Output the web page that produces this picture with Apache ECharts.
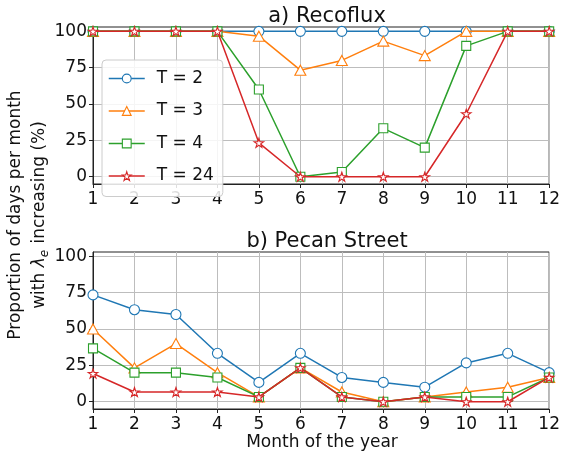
<!DOCTYPE html>
<html>
<head>
<meta charset="utf-8">
<script src="https://cdn.jsdelivr.net/npm/echarts@6/dist/echarts.min.js"></script>
<style>html,body{margin:0;padding:0;background:#fff}#c{width:563px;height:461px}</style>
</head>
<body>
<div id="c"></div>
<script>
const months = [1,2,3,4,5,6,7,8,9,10,11,12];
const yTicks = [0,25,50,75,100];
const seriesNames = ['T = 2','T = 3','T = 4','T = 24'];
const recoT2 = [100,100,100,100,100,100,100,100,100,100,100,100];
const recoT3 = [100,100,100,100,96.7,73.3,80,93.3,83.3,100,100,100];
const recoT4 = [100,100,100,100,60,0,3.3,33.3,20,90,100,100];
const recoT24 = [100,100,100,100,23.3,0,0,0,0,43.3,100,100];
const pecanT2 = [73.5,63.3,60,33.3,13.3,33.3,16.7,13.3,10,26.7,33.3,20];
const pecanT3 = [50,23.3,40,20,3.3,23.3,6.7,0,3.3,6.7,10,16.7];
const pecanT4 = [36.7,20,20,16.7,3.3,23.3,3.3,0,3.3,3.3,3.3,16.7];
const pecanT24 = [19.4,6.7,6.7,6.7,3.3,23.3,3.3,0,3.3,0,0,16.7];

const colors = ['#1f77b4','#ff7f0e','#2ca02c','#d62728'];
const star = 'path://M0,-10 L2.245,-3.09 L9.51,-3.09 L3.633,1.18 L5.88,8.09 L0,3.82 L-5.88,8.09 L-3.633,1.18 L-9.51,-3.09 L-2.245,-3.09 Z';
const symbols = ['circle','triangle','rect',star];
const symSizes = [10,[11,10],9,[9.5,9]];
const FONT = 'DejaVu Sans';

function pairs(arr){ return months.map((m,i)=>[m, arr[i]]); }
const dataSets = [[recoT2,recoT3,recoT4,recoT24],[pecanT2,pecanT3,pecanT4,pecanT24]];

const series = [];
dataSets.forEach((set, gi) => {
  set.forEach((arr, si) => {
    series.push({
      type: 'line',
      name: seriesNames[si],
      xAxisIndex: gi, yAxisIndex: gi,
      data: pairs(arr),
      symbol: symbols[si],
      symbolSize: symSizes[si],
      showAllSymbol: true,
      color: colors[si],
      lineStyle: {width: 1.5, color: colors[si]},
      itemStyle: {color: '#ffffff', borderColor: colors[si], borderWidth: 1.1},
      emphasis: {disabled: true},
      animation: false,
      z: 2 + si
    });
  });
});

function xAxis(gi){
  return {
    type: 'value', gridIndex: gi, min: 1, max: 12, interval: 1,
    axisLine: {show: true, onZero: false, lineStyle: {color: '#222', width: 1}},
    axisTick: {show: true, length: 4, lineStyle: {color: '#222'}},
    axisLabel: {fontFamily: FONT, fontSize: 17, color: '#111', margin: 7},
    splitLine: {show: true, lineStyle: {color: '#bdbdbd', width: 1}}
  };
}
function yAxis(gi){
  return {
    type: 'value', gridIndex: gi, min: -5, max: 103,
    axisLine: {show: true, onZero: false, lineStyle: {color: '#222', width: 1}},
    axisTick: {show: true, length: 4, lineStyle: {color: '#222'}, customValues: yTicks},
    axisLabel: {fontFamily: FONT, fontSize: 17, color: '#111', margin: 6, customValues: yTicks},
    splitLine: {show: true, lineStyle: {color: '#bdbdbd', width: 1}}
  };
}

const chart = echarts.init(document.getElementById('c'), null, {renderer: 'canvas'});
chart.setOption({
  backgroundColor: '#fff',
  animation: false,
  title: [
    {text: 'a) Recoflux', left: 322, top: 1, textAlign: 'center',
     textStyle: {fontFamily: FONT, fontSize: 21, fontWeight: 'normal', color: '#111'}},
    {text: 'b) Pecan Street', left: 322, top: 226, textAlign: 'center',
     textStyle: {fontFamily: FONT, fontSize: 21, fontWeight: 'normal', color: '#111'}}
  ],
  grid: [
    {left: 93, right: 11, top: 27, height: 157, show: true, borderColor: '#222', borderWidth: 1, backgroundColor: 'transparent'},
    {left: 93, right: 11, top: 252, height: 157, show: true, borderColor: '#222', borderWidth: 1, backgroundColor: 'transparent'}
  ],
  xAxis: [xAxis(0), xAxis(1)],
  yAxis: [yAxis(0), yAxis(1)],
  legend: {
    show: true, orient: 'vertical', left: 102, top: 60,
    data: seriesNames,
    itemWidth: 36, itemHeight: 11, itemGap: 15.5,
    padding: [10, 9, 12, 6],
    backgroundColor: 'rgba(255,255,255,0.85)',
    borderColor: '#cccccc', borderWidth: 1, borderRadius: 4,
    itemStyle: {borderWidth: 1.1},
    lineStyle: {width: 1.5},
    textStyle: {fontFamily: FONT, fontSize: 17, color: '#111', padding: [0,0,0,7]},
    selectedMode: false
  },
  graphic: [
    {type: 'text', x: 16, y: 215, rotation: Math.PI/2,
     style: {text: 'Proportion of days per month', fontFamily: FONT, fontSize: 17, fill: '#111',
             align: 'center', verticalAlign: 'middle'}},
    {type: 'text', x: 40, y: 215, rotation: Math.PI/2,
     style: {text: '{n|with }{l|λ}{s|e}{n| increasing (%)}', fontFamily: FONT, fontSize: 17, fill: '#111',
             align: 'center', verticalAlign: 'middle',
             rich: {
               n: {fontFamily: FONT, fontSize: 17, fill: '#111'},
               l: {fontFamily: FONT, fontSize: 17, fontStyle: 'italic', fill: '#111'},
               s: {fontFamily: FONT, fontSize: 12, fontStyle: 'italic', fill: '#111', padding: [9,1,0,0]}
             }}},
    {type: 'text', x: 322, y: 443,
     style: {text: 'Month of the year', fontFamily: FONT, fontSize: 17, fill: '#111',
             align: 'center', verticalAlign: 'middle'}}
  ],
  series: series
});
</script>
</body>
</html>
